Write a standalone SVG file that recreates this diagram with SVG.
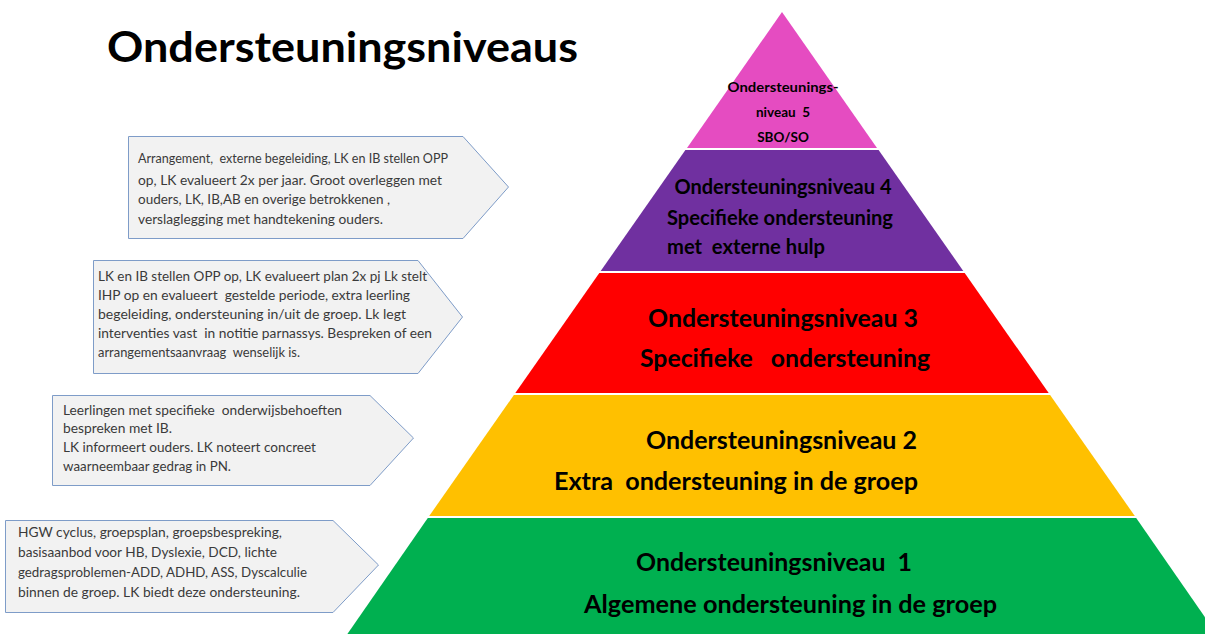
<svg xmlns="http://www.w3.org/2000/svg" width="1205" height="634" viewBox="0 0 1205 634">
<style>
.bg{fill:#ffffff}
text{white-space:pre}
.title{font-family:Lato,"Open Sans","Liberation Sans",sans-serif;font-weight:bold;font-size:42px;fill:#000}
.call{fill:#F2F2F2;stroke:#7E9CC8;stroke-width:1}
.ct{font-family:Lato,"Open Sans","Liberation Sans",sans-serif;font-size:13.5px;fill:#3a3a3a}
.lv{font-family:Lato,"Open Sans","Liberation Sans",sans-serif;font-weight:bold;fill:#000;text-anchor:middle}
.l5{font-size:13.5px}
.l4{font-size:20px}
.lx{font-size:24px}
</style>
<rect class="bg" x="0" y="0" width="1205" height="634"/>
<g id="title">
<text class="title" x="107" y="62" textLength="471" lengthAdjust="spacingAndGlyphs">Ondersteuningsniveaus</text>
</g>
<g id="level5">
<polygon points="782,12 877,148 687,148" fill="#E54CC1"/>
<text class="lv l5" x="783" y="92" textLength="111" lengthAdjust="spacingAndGlyphs">Ondersteunings-</text>
<text class="lv l5" x="783" y="117">niveau  5</text>
<text class="lv l5" x="783" y="142">SBO/SO</text>
</g>
<g id="level4">
<polygon points="685.4,150 878.6,150 963.3,271 600.7,271" fill="#7030A0"/>
<text class="lv l4" x="783" y="194" textLength="217" lengthAdjust="spacingAndGlyphs">Ondersteuningsniveau 4</text>
<text class="lv l4" x="667" y="225" style="text-anchor:start" textLength="226" lengthAdjust="spacingAndGlyphs">Specifieke ondersteuning</text>
<text class="lv l4" x="667" y="254" style="text-anchor:start" textLength="158" lengthAdjust="spacingAndGlyphs">met  externe hulp</text>
</g>
<g id="level3">
<polygon points="599.3,273 964.7,273 1048.7,393 515.3,393" fill="#FF0000"/>
<text class="lv lx" x="783" y="327" textLength="270" lengthAdjust="spacingAndGlyphs">Ondersteuningsniveau 3</text>
<text class="lv lx" x="785" y="367" textLength="290" lengthAdjust="spacingAndGlyphs">Specifieke   ondersteuning</text>
</g>
<g id="level2">
<polygon points="513.9,395 1050.1,395 1134.8,516 429.2,516" fill="#FFC000"/>
<text class="lv lx" x="781.5" y="449" textLength="271" lengthAdjust="spacingAndGlyphs">Ondersteuningsniveau 2</text>
<text class="lv lx" x="736" y="490" textLength="364" lengthAdjust="spacingAndGlyphs">Extra  ondersteuning in de groep</text>
</g>
<g id="level1">
<polygon points="427.8,518 1136.2,518 1218,636 346,636" fill="#00B050"/>
<text class="lv lx" x="774" y="571" textLength="276" lengthAdjust="spacingAndGlyphs">Ondersteuningsniveau  1</text>
<text class="lv lx" x="790.5" y="613" textLength="413" lengthAdjust="spacingAndGlyphs">Algemene ondersteuning in de groep</text>
</g>
<g id="note4">
<polygon class="call" points="128.5,136.5 463,136.5 508.5,187 463,238.5 128.5,238.5"/>
<text class="ct" x="138" y="163" textLength="310" lengthAdjust="spacingAndGlyphs">Arrangement,  externe begeleiding, LK en IB stellen OPP</text>
<text class="ct" x="138" y="185" textLength="304" lengthAdjust="spacingAndGlyphs">op, LK evalueert 2x per jaar. Groot overleggen met</text>
<text class="ct" x="138" y="204" textLength="252" lengthAdjust="spacingAndGlyphs">ouders, LK, IB,AB en overige betrokkenen ,</text>
<text class="ct" x="138" y="224" textLength="245" lengthAdjust="spacingAndGlyphs">verslaglegging met handtekening ouders.</text>
</g>
<g id="note3">
<polygon class="call" points="93.5,260.5 418,260.5 462.5,317 418,373.5 93.5,373.5"/>
<text class="ct" x="98" y="281" textLength="329" lengthAdjust="spacingAndGlyphs">LK en IB stellen OPP op, LK evalueert plan 2x pj Lk stelt</text>
<text class="ct" x="98" y="300" textLength="312" lengthAdjust="spacingAndGlyphs">IHP op en evalueert  gestelde periode, extra leerling</text>
<text class="ct" x="98" y="319" textLength="308" lengthAdjust="spacingAndGlyphs">begeleiding, ondersteuning in/uit de groep. Lk legt</text>
<text class="ct" x="98" y="338" textLength="334" lengthAdjust="spacingAndGlyphs">interventies vast  in notitie parnassys. Bespreken of een</text>
<text class="ct" x="98" y="357" textLength="202" lengthAdjust="spacingAndGlyphs">arrangementsaanvraag  wenselijk is.</text>
</g>
<g id="note2">
<polygon class="call" points="52.5,395.5 370,395.5 413.5,438 370,485.5 52.5,485.5"/>
<text class="ct" x="63" y="415" textLength="279" lengthAdjust="spacingAndGlyphs">Leerlingen met specifieke  onderwijsbehoeften</text>
<text class="ct" x="63" y="433" textLength="109" lengthAdjust="spacingAndGlyphs">bespreken met IB.</text>
<text class="ct" x="63" y="452" textLength="253" lengthAdjust="spacingAndGlyphs">LK informeert ouders. LK noteert concreet</text>
<text class="ct" x="63" y="471" textLength="168" lengthAdjust="spacingAndGlyphs">waarneembaar gedrag in PN.</text>
</g>
<g id="note1">
<polygon class="call" points="5.5,520.5 333,520.5 378.5,565 333,612.5 5.5,612.5"/>
<text class="ct" x="18" y="537" textLength="264" lengthAdjust="spacingAndGlyphs">HGW cyclus, groepsplan, groepsbespreking,</text>
<text class="ct" x="18" y="557" textLength="259" lengthAdjust="spacingAndGlyphs">basisaanbod voor HB, Dyslexie, DCD, lichte</text>
<text class="ct" x="18" y="577" textLength="289" lengthAdjust="spacingAndGlyphs">gedragsproblemen-ADD, ADHD, ASS, Dyscalculie</text>
<text class="ct" x="18" y="597" textLength="282" lengthAdjust="spacingAndGlyphs">binnen de groep. LK biedt deze ondersteuning.</text>
</g>
<g id="connectors"></g>
</svg>
